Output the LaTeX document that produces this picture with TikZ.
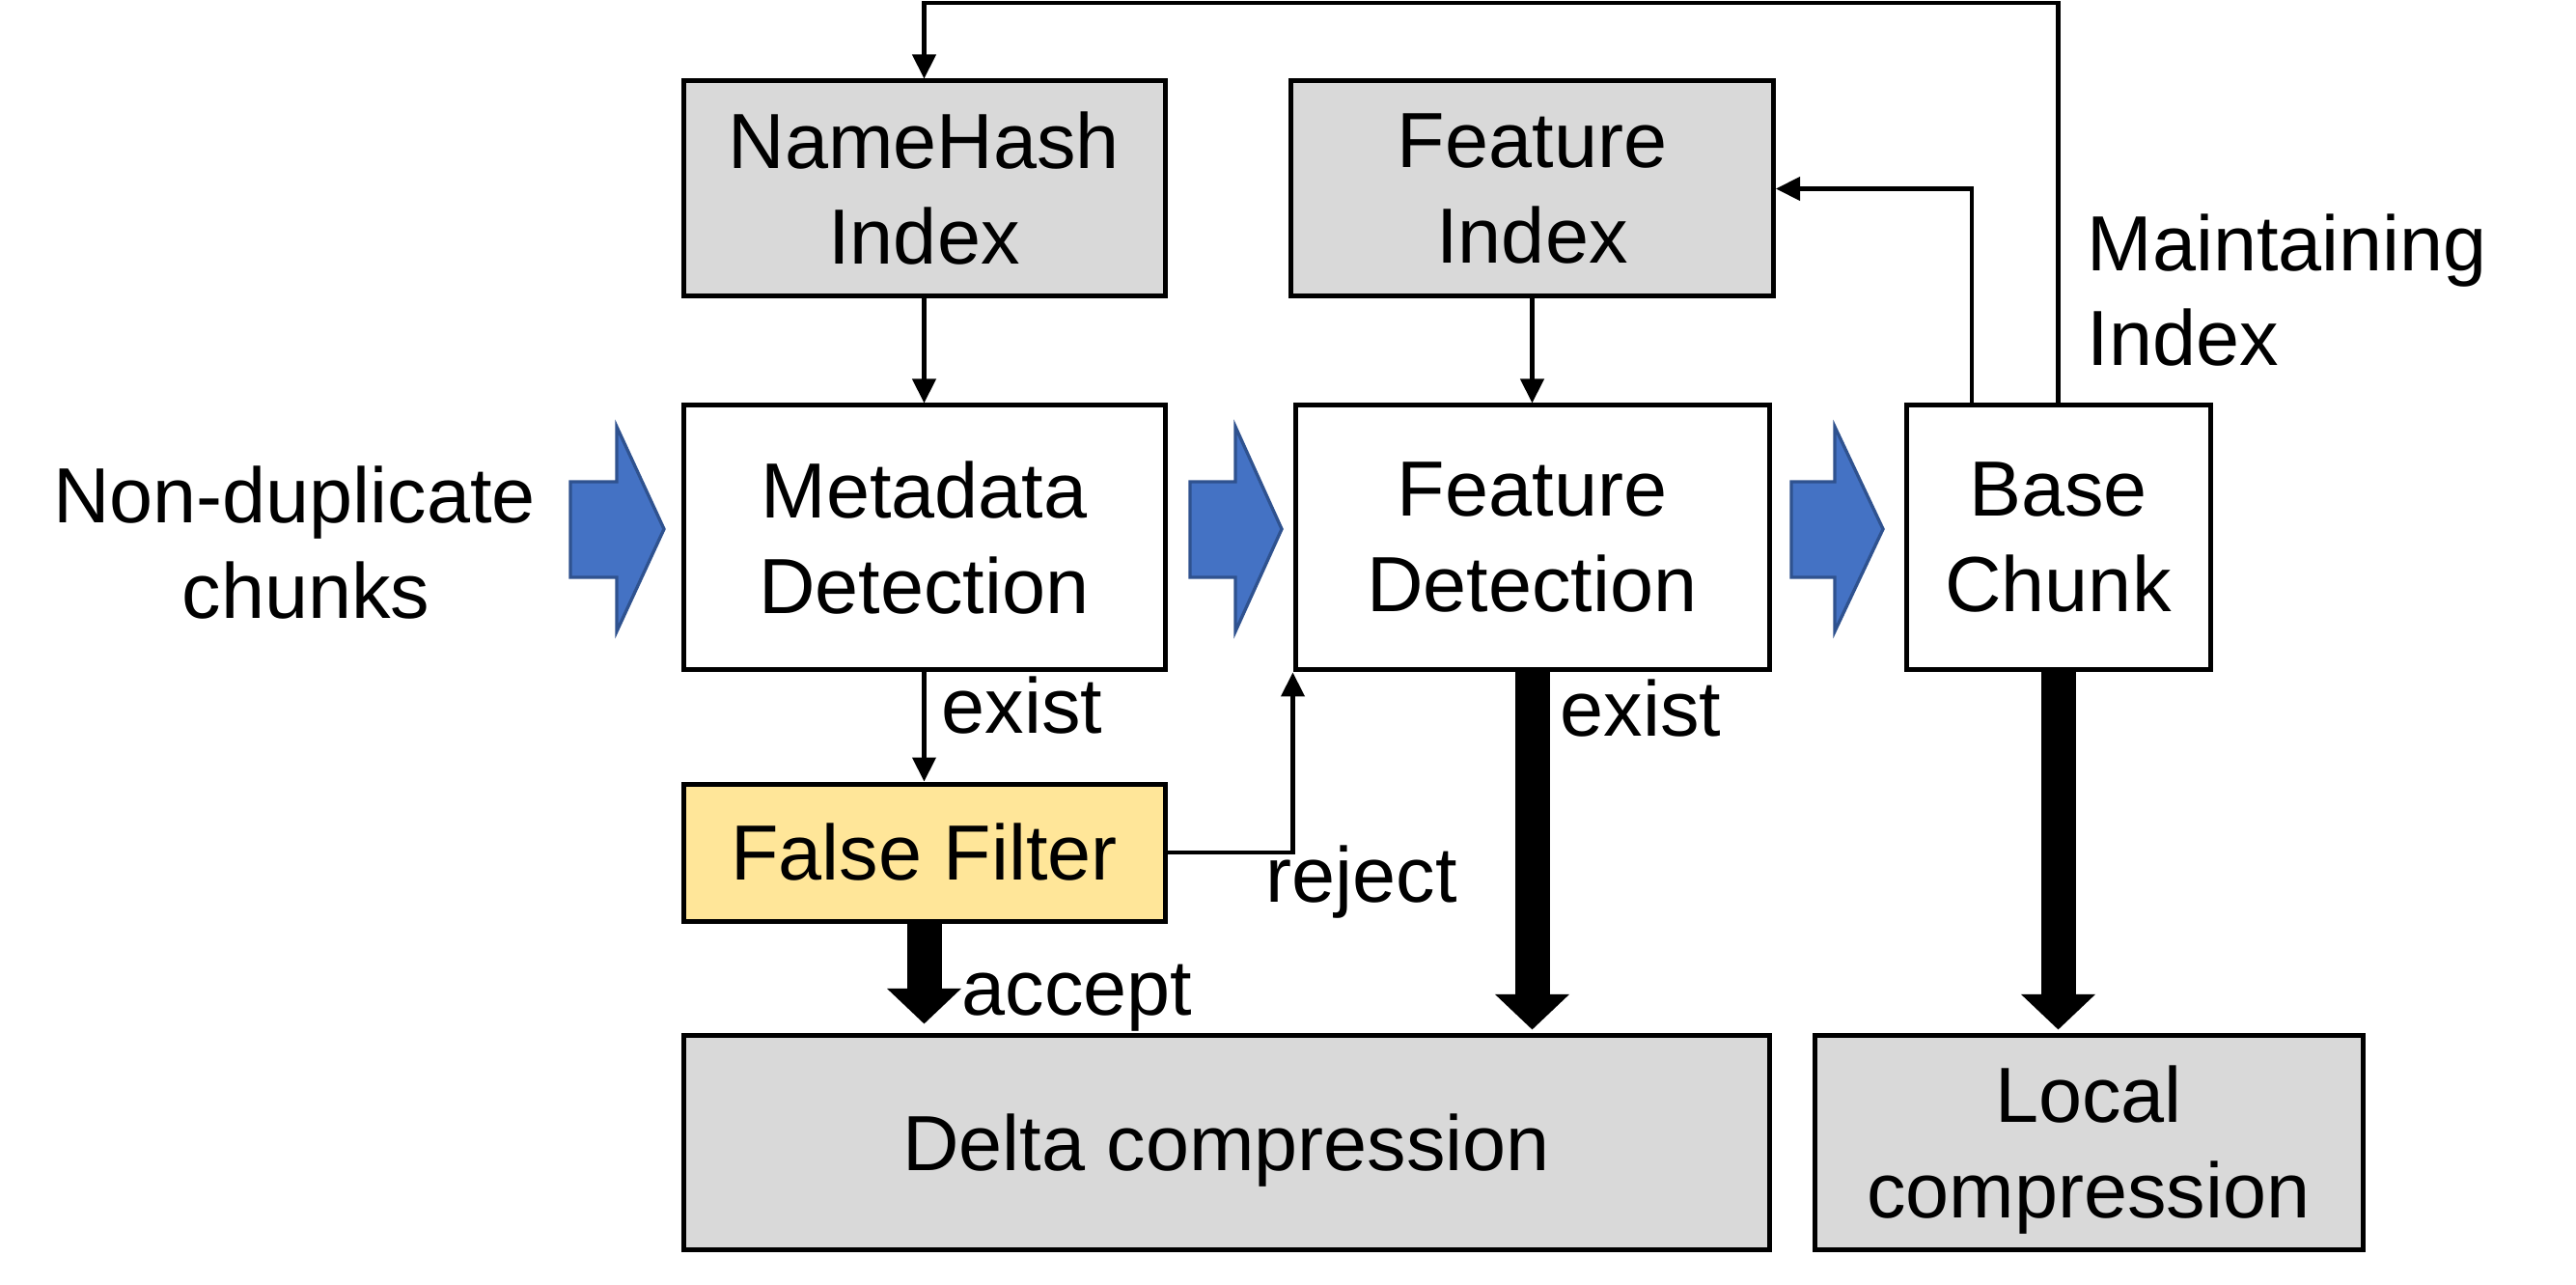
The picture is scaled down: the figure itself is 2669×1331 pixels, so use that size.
\documentclass[tikz,border=0pt]{standalone}
\usepackage{fontspec}
\setmainfont{Liberation Sans}
\usetikzlibrary{arrows.meta,calc}
\definecolor{boxgray}{HTML}{D9D9D9}
\definecolor{boxyellow}{HTML}{FFE699}
\definecolor{arrowblue}{HTML}{4472C4}
\definecolor{arrowblueedge}{HTML}{2F528F}
\newcommand{\nodepth}[1]{\raisebox{0pt}[\height][0pt]{#1}}
\begin{document}
\begin{tikzpicture}[x=0.3pt,y=-0.3pt,
  txt/.style={font=\fontsize{24.3pt}{29.7pt}\selectfont, inner sep=0pt},
  box/.style={draw, line width=1.5pt, txt, align=center},
  thinarrow/.style={line width=1.3pt, -{Triangle[width=7.2pt,length=7.5pt]}},
  thickarrow/.style={line width=10.8pt, -{Triangle[width=22.5pt,length=11pt]}},
  blockarrow/.style={fill=arrowblue, draw=arrowblueedge, line width=1pt, line join=miter}]
\useasboundingbox (0,0) rectangle (2669,1331);

% boxes
\node[box, fill=boxgray, minimum width=149.7pt, minimum height=66.9pt] (nh) at (957.5,195.5) {NameHash\\Index};
\node[box, fill=boxgray, minimum width=150pt, minimum height=66.9pt] (fi) at (1587.5,195.5) {Feature\\Index};
\node[box, fill=white, minimum width=149.7pt, minimum height=82.2pt] (md) at (957.5,557) {Metadata\\Detection};
\node[box, fill=white, minimum width=147.3pt, minimum height=82.2pt] (fd) at (1587.5,557) {Feature\\Detection};
\node[box, fill=white, minimum width=94.5pt, minimum height=82.2pt] (bc) at (2132.5,557) {Base\\Chunk};
\node[box, fill=boxyellow, minimum width=149.7pt, minimum height=42.6pt] (ff) at (957.5,883) {False Filter};
\node[box, fill=boxgray, minimum width=337.5pt, minimum height=66.6pt] (dc) at (1270.5,1183) {\nodepth{Delta compression}};
\node[box, fill=boxgray, minimum width=170.4pt, minimum height=66.6pt] (lc) at (2164,1183) {Local\\\nodepth{compression}};

% side texts
\node[txt, anchor=base] (nd1) at (305,542) {Non-duplicate};
\node[txt, anchor=base] (nd2) at (317,641) {chunks};
\node[txt, anchor=base west] (mi1) at (2162,281) {Maintaining};
\node[txt, anchor=base west] (mi2) at (2162,379) {Index};

% block arrows
\draw[blockarrow] (591,499) -- (639,499) -- (639,442) -- (688,548) -- (639,654) -- (639,598) -- (591,598) -- cycle;
\draw[blockarrow] (1233,499) -- (1280,499) -- (1280,442) -- (1328,548) -- (1280,654) -- (1280,598) -- (1233,598) -- cycle;
\draw[blockarrow] (1856,499) -- (1901,499) -- (1901,442) -- (1951,548) -- (1901,654) -- (1901,598) -- (1856,598) -- cycle;

% thin connectors
\coordinate (ctop) at (0,3);
\draw[thinarrow] (nh.south) -- (md.north);
\draw[thinarrow] (fi.south) -- (fd.north);
\draw[thinarrow] (md.south) -- (ff.north);
\draw[thinarrow] (ff.east) -| (fd.south west);
\coordinate (bcl) at (2043,420);
\draw[thinarrow] (bcl) |- (fi.east);
\draw[thinarrow] (bc.north) -- (bc.north |- ctop) -- (nh.north |- ctop) -- (nh.north);

% thick connectors
\draw[thickarrow, shorten >=2.7pt] (ff.south) -- (ff.south |- dc.north);
\draw[thickarrow, shorten >=0.9pt] (fd.south) -- (fd.south |- dc.north);
\draw[thickarrow, shorten >=0.9pt] (bc.south) -- (bc.south |- lc.north);

% labels
\node[txt, anchor=base west] (ex1) at (975,760) {exist};
\node[txt, anchor=base west] (ex2) at (1616,763) {exist};
\node[txt, anchor=base west] (acc) at (996,1051) {accept};
\node[txt, anchor=base west] (rej) at (1311,934) {reject};
\end{tikzpicture}
\end{document}
